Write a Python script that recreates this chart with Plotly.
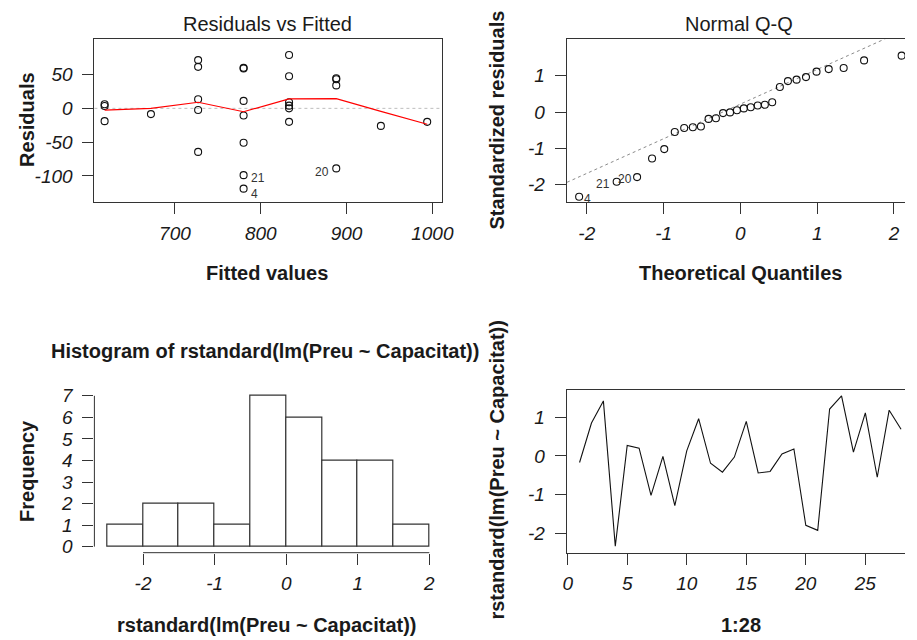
import numpy as np
import plotly.graph_objects as go
from statistics import NormalDist

# ---------------- data ----------------
index = list(range(1, 29))
rstd = [-0.17, 0.85, 1.42, -2.33, 0.27, 0.20, -1.02, -0.01, -1.28, 0.13,
        0.96, -0.19, -0.42, -0.03, 0.89, -0.44, -0.40, 0.05, 0.18, -1.79,
        -1.92, 1.21, 1.55, 0.10, 1.11, -0.55, 1.18, 0.69]
fitted = [672, 888, 727, 780, 727, 780, 780, 833, 727, 833,
          833, 780, 833, 727, 888, 618, 994, 618, 833, 888,
          780, 727, 833, 618, 780, 940, 780, 888]
resid = [-8.5, 43, 71.5, -119, 13.5, 11, -51, 0, -64.5, 9,
         47.5, -10.5, -20, -2.5, 44.5, -19, -20, 3.5, 4, -89,
         -99, 61.5, 79, 6, 59, -26, 60, 34]
smooth_x = [618, 672, 727, 780, 833, 888, 940, 994]
smooth_y = [-2.5, 0, 9, -5, 14, 14.5, -4.5, -23.5]
hist_start, hist_end, hist_size = -2.5, 2.0, 0.5

# Q-Q values (qqnorm / qqline as R computes them)
n = len(rstd)
qq_y = sorted(rstd)
order = sorted(range(n), key=lambda i: rstd[i])
qq_x = [NormalDist().inv_cdf((k + 0.5) / n) for k in range(n)]
q1, q3 = np.quantile(rstd, [0.25, 0.75])
z1, z3 = NormalDist().inv_cdf(0.25), NormalDist().inv_cdf(0.75)
slope = (q3 - q1) / (z3 - z1)
intercept = q1 - slope * z1

FONT = "Liberation Sans, Arial, sans-serif"
TXT = "#1a1a1a"
LINE = "#333333"
W, H = 917, 640

marker = dict(symbol="circle-open", size=7, color="#111", line=dict(width=1.1, color="#111"))

fig = go.Figure()

# Panel 1: Residuals vs Fitted
fig.add_trace(go.Scatter(x=fitted, y=resid, mode="markers", xaxis="x", yaxis="y",
                         marker=marker, showlegend=False, hoverinfo="skip"))
fig.add_trace(go.Scatter(x=smooth_x, y=smooth_y, mode="lines", xaxis="x", yaxis="y",
                         line=dict(color="#ff0000", width=1.2),
                         showlegend=False, hoverinfo="skip"))

# Panel 2: Normal Q-Q
xl = [-2.4, 2.3]
fig.add_trace(go.Scatter(x=xl, y=[intercept + slope * v for v in xl], mode="lines",
                         xaxis="x2", yaxis="y2",
                         line=dict(color="#8a8a8a", width=1, dash="dot"),
                         showlegend=False, hoverinfo="skip"))
fig.add_trace(go.Scatter(x=qq_x, y=qq_y, mode="markers", xaxis="x2", yaxis="y2",
                         marker=marker, showlegend=False, hoverinfo="skip"))

# Panel 3: histogram
fig.add_trace(go.Histogram(x=rstd, xaxis="x3", yaxis="y3",
                           xbins=dict(start=hist_start, end=hist_end, size=hist_size),
                           marker=dict(color="white", line=dict(color=LINE, width=1.2)),
                           showlegend=False, hoverinfo="skip"))

# Panel 4: index plot
fig.add_trace(go.Scatter(x=index, y=rstd, mode="lines", xaxis="x4", yaxis="y4",
                         line=dict(color="#111", width=1.1),
                         showlegend=False, hoverinfo="skip"))

LX = [92 / W, 446 / W]
RX = [572.7 / W, 1.0]
TY = [1 - 201 / H, 1 - 36 / H]
BY = [1 - 556.5 / H, 1 - 391.3 / H]

tickfont = dict(family=FONT, size=19, color=TXT, style="italic")
common = dict(showgrid=False, zeroline=False, ticks="outside", ticklen=11, tickwidth=1,
              tickcolor=LINE, linecolor=LINE, linewidth=1, tickfont=tickfont)


def ax(domain, rng, tv, tt, anchor, showline=True, mirror=False, standoff=6):
    d = dict(common)
    d.update(domain=domain, range=rng, tickvals=tv, ticktext=tt, anchor=anchor,
             showline=showline, mirror=mirror, autorange=False,
             ticklabelstandoff=standoff)
    return d


fig.update_layout(
    width=W, height=H, margin=dict(l=0, r=0, t=0, b=0),
    paper_bgcolor="white", plot_bgcolor="white", bargap=0,
    xaxis=ax(LX, [606.1, 1011.5], [700, 800, 900, 1000], ["700", "800", "900", "1000"], "y", True, True, 3),
    yaxis=ax(TY, [-139, 102], [-100, -50, 0, 50], ["-100", "-50", "0", "50"], "x", True, True),
    xaxis2=ax(RX, [-2.262, 2.144], [-2, -1, 0, 1, 2], ["-2", "-1", "0", "1", "2"], "y2", True, True, 3),
    yaxis2=ax(TY, [-2.48, 1.995], [-2, -1, 0, 1], ["-2", "-1", "0", "1"], "x2", True, False),
    xaxis3=ax(LX, [-2.68, 2.18], [-2, -1, 0, 1, 2], ["-2", "-1", "0", "1", "2"], "y3", False, False, 3),
    yaxis3=ax(BY, [-0.28, 7.28], list(range(8)), [str(v) for v in range(8)], "x3", False, False),
    xaxis4=ax(RX, [-0.08, 28.33], [0, 5, 10, 15, 20, 25], ["0", "5", "10", "15", "20", "25"], "y4", True, True, 3),
    yaxis4=ax(BY, [-2.496, 1.706], [-2, -1, 0, 1], ["-2", "-1", "0", "1"], "x4", True, False),
)

shapes = [
    dict(type="line", xref="x domain", yref="y", x0=0, x1=1, y0=0, y1=0,
         line=dict(color="#bdbdbd", width=1, dash="dot"), layer="below"),
    # histogram axis lines (only between first and last tick, as in R)
    dict(type="line", xref="x3", yref="y3 domain", x0=-2, x1=2, y0=0, y1=0,
         line=dict(color=LINE, width=1)),
    dict(type="line", xref="x3 domain", yref="y3", x0=0, x1=0, y0=0, y1=7,
         line=dict(color=LINE, width=1)),
]
fig.update_layout(shapes=shapes)


def px_ann(text, x, y, size=20, bold=False, angle=0, color=TXT):
    t = f"<b>{text}</b>" if bold else text
    return dict(text=t, x=x / W, y=1 - y / H, xref="paper", yref="paper",
                showarrow=False, textangle=angle, xanchor="center", yanchor="middle",
                font=dict(family=FONT, size=size, color=color))


anns = [
    px_ann("Residuals vs Fitted", 268, 20),
    px_ann("Normal Q-Q", 748, 20),
    px_ann("Histogram of rstandard(lm(Preu ~ Capacitat))", 266, 352, bold=True),
    px_ann("Fitted values", 268, 273, bold=True),
    px_ann("Theoretical Quantiles", 750, 273, bold=True),
    px_ann("rstandard(lm(Preu ~ Capacitat))", 268, 630, bold=True),
    px_ann("1:28", 750, 630, bold=True),
    px_ann("Residuals", 24, 118, bold=True, angle=-90),
    px_ann("Standardized residuals", 502, 118, bold=True, angle=-90),
    px_ann("Frequency", 24, 474, bold=True, angle=-90),
    px_ann("rstandard(lm(Preu ~ Capacitat))", 502, 472, bold=True, angle=-90),
]

# point id labels
lab_font = dict(family=FONT, size=12, color="#333")
for idx, anchor, dx, dy in [(4, "left", 5, -5), (21, "left", 5, -3), (20, "right", -5, -4)]:
    i = idx - 1
    anns.append(dict(text=str(idx), x=fitted[i], y=resid[i], xref="x", yref="y",
                     showarrow=False, xanchor=anchor, xshift=dx, yshift=dy,
                     font=lab_font))
for idx, anchor, dx in [(4, "left", 3), (21, "right", -5), (20, "right", -3)]:
    k = order.index(idx - 1)
    anns.append(dict(text=str(idx), x=qq_x[k], y=qq_y[k], xref="x2", yref="y2",
                     showarrow=False, xanchor=anchor, xshift=dx, yshift=-2,
                     font=lab_font))
fig.update_layout(annotations=anns)

fig.write_html("out.html", config={"displayModeBar": False},
               post_script="document.body.style.margin='0';document.body.style.overflow='hidden';")
